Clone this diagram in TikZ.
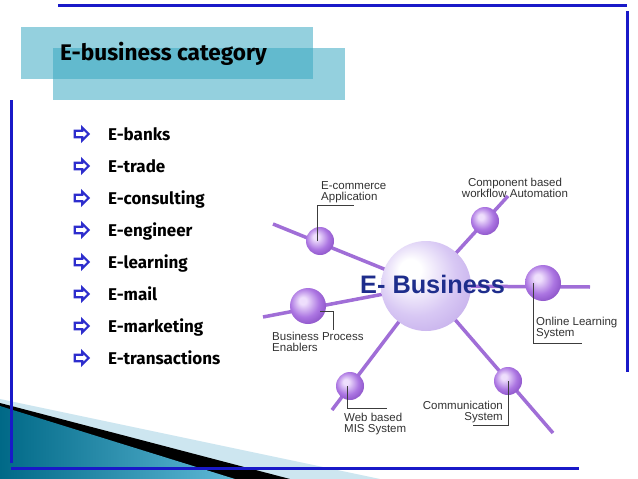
\documentclass[tikz,border=0pt]{standalone}
\usepackage{fontspec}
\setmainfont{Fira Sans}
\newfontfamily\arialfont{Liberation Sans}
\usepackage{tikz}
\usetikzlibrary{positioning, shapes.arrows}

\definecolor{framecol}{RGB}{25,25,200}
\definecolor{boxcol}{RGB}{54,167,193}
\definecolor{bulletcol}{RGB}{45,45,205}
\definecolor{spokecol}{RGB}{160,110,215}
\definecolor{leadcol}{RGB}{60,60,60}
\definecolor{lblcol}{RGB}{50,50,50}
\definecolor{hubtext}{RGB}{30,45,140}
\definecolor{hubmid}{RGB}{216,200,244}
\definecolor{hubedge}{RGB}{190,165,232}
\definecolor{ballhi}{RGB}{238,222,252}
\definecolor{ballmid}{RGB}{172,118,226}
\definecolor{balledge}{RGB}{128,70,190}
\definecolor{tealdark}{RGB}{0,105,135}
\definecolor{teallight}{RGB}{95,185,215}
\definecolor{lightband}{RGB}{205,230,240}

\pgfdeclareradialshading{hubball}{\pgfpoint{-10bp}{10bp}}{color(0bp)=(white); color(6bp)=(white); color(22bp)=(hubmid); color(38bp)=(hubedge); color(50bp)=(hubedge)}
\pgfdeclareradialshading{smallball}{\pgfpoint{-8bp}{8bp}}{color(0bp)=(ballhi); color(5bp)=(ballhi); color(20bp)=(ballmid); color(34bp)=(balledge); color(50bp)=(balledge)}

\begin{document}
\begin{tikzpicture}[x=1pt, y=-1pt,
  frame/.style={draw=framecol, line width=3pt},
  spoke/.style={draw=spokecol, line width=3.5pt},
  leader/.style={draw=leadcol, line width=0.8pt},
  ball/.style={circle, shade, shading=smallball, minimum size=28pt, inner sep=0pt},
  bigball/.style={ball, minimum size=36pt},
  hub/.style={circle, shade, shading=hubball, minimum size=90pt, inner sep=0pt},
  lbl/.style={font=\arialfont\fontsize{11.5}{11}\selectfont, text=lblcol, inner sep=0pt},
  item/.style={font=\bfseries\fontsize{17}{17}\selectfont, anchor=base west, inner sep=0pt},
  bullet/.style={single arrow, draw=bulletcol, fill=white, line width=2.2pt, inner sep=2.2pt, single arrow head extend=3.2pt, minimum height=14pt}]
\useasboundingbox (0,0) rectangle (638,479);
\fill[white] (0,0) rectangle (638,479);

\fill[lightband] (0,399) -- (380,479) -- (0,479) -- cycle;
\fill[black] (0,403) -- (290,479) -- (0,479) -- cycle;
\shade[left color=tealdark, right color=teallight] (0,406) -- (235,479) -- (0,479) -- cycle;

\draw[frame] (58,5) -- (627,5);
\draw[frame] (627,11) -- (627,372);
\draw[frame] (11,100) -- (11,463);
\draw[frame] (11,468) -- (579,468);

\fill[boxcol, opacity=0.53] (21,27) rectangle (313,79);
\fill[boxcol, opacity=0.53] (53,48) rectangle (345,100);
\node[font=\bfseries\fontsize{22.6}{22.6}\selectfont, anchor=base west, inner sep=0pt] (title) at (60,60) {E-business category};

\node[bullet] (b1) at (80,134) {};
\node[bullet] (b2) at (80,166) {};
\node[bullet] (b3) at (80,198) {};
\node[bullet] (b4) at (80,230) {};
\node[bullet] (b5) at (80,262) {};
\node[bullet] (b6) at (80,294) {};
\node[bullet] (b7) at (80,326) {};
\node[bullet] (b8) at (80,358) {};
\node[item] (i1) at (108,140) {E-banks};
\node[item] (i2) at (108,172) {E-trade};
\node[item] (i3) at (108,204) {E-consulting};
\node[item] (i4) at (108,236) {E-engineer};
\node[item] (i5) at (108,268) {E-learning};
\node[item] (i6) at (108,300) {E-mail};
\node[item] (i7) at (108,332) {E-marketing};
\node[item] (i8) at (108,364) {E-transactions};

\coordinate (hubc) at (426,286);
\coordinate (ecomEnd) at (273,224);
\coordinate (compEnd) at (508,196);
\coordinate (onlineEnd) at (590,287);
\coordinate (bpeEnd) at (263,317);
\coordinate (webEnd) at (332,410);
\coordinate (commEnd) at (553,433);
\draw[spoke] (ecomEnd) -- (hubc) (compEnd) -- (hubc) (onlineEnd) -- (hubc) (bpeEnd) -- (hubc) (webEnd) -- (hubc) (commEnd) -- (hubc);

\node[ball] (ecom) at (320,241) {};
\node[ball] (comp) at (485,221) {};
\node[bigball] (online) at (543,283) {};
\node[bigball] (bpe) at (308,306) {};
\node[ball] (web) at (350,386) {};
\node[ball] (comm) at (508,381) {};
\node[hub] (hub) at (hubc) {};
\node[font=\arialfont\bfseries\fontsize{25.3}{25.3}\selectfont, text=hubtext, anchor=base west, inner sep=0pt] (ebiz) at (360,293) {E- Business};

\coordinate (ecomTip) at (354,205);
\coordinate (onlineTip) at (582,343);
\coordinate (bpeTip) at (333,330);
\coordinate (webTip) at (387,408);
\coordinate (commTip) at (473,425);
\draw[leader] (ecom.center) ++(-3,0) |- (ecomTip);
\draw[leader] (online.center) ++(-10,0) |- (onlineTip);
\draw[leader] (bpe.center) ++(12,5) -| (bpeTip);
\draw[leader] (web.center) ++(-3,0) |- (webTip);
\draw[leader] (comm.center) |- (commTip);

\node[lbl, anchor=west, align=left] (ecomLbl) at (321,192) {E-commerce\\Application};
\node[lbl, align=center] (compLbl) at (515,188) {Component based\\workflow Automation};
\node[lbl, anchor=west, align=left] (onlineLbl) at (536,328) {Online Learning\\System};
\node[lbl, anchor=west, align=left] (bpeLbl) at (272,342) {Business Process\\Enablers};
\node[lbl, anchor=west, align=left] (webLbl) at (344,424) {Web based\\MIS System};
\node[lbl, anchor=east, align=right] (commLbl) at (503,412) {Communication\\System};
\end{tikzpicture}
\end{document}
